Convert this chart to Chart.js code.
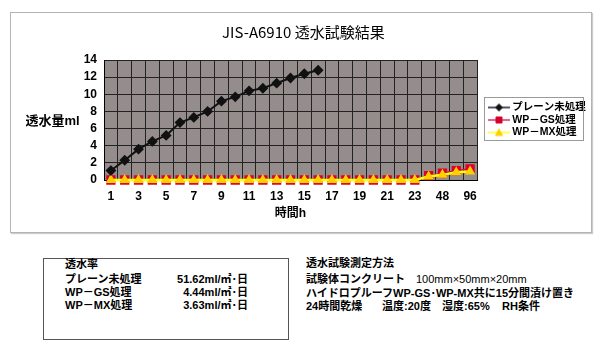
<!DOCTYPE html>
<html><head><meta charset="utf-8">
<script src="https://cdn.jsdelivr.net/npm/chart.js@4"></script>
<style>
html,body{margin:0;padding:0;background:#fff;width:602px;height:356px;overflow:hidden;}
#box{position:absolute;left:10px;top:12px;width:580px;height:219px;border:1px solid #b4b4b4;box-shadow:1px 1px 1px #ccc;}
#box canvas{display:block;}
.t{position:absolute;white-space:nowrap;font-family:"Liberation Sans","Noto Sans CJK JP",sans-serif;font-weight:bold;font-size:11px;line-height:13px;color:#000;}
.n{font-weight:normal;}
#rateBox{position:absolute;left:43px;top:258px;width:244px;height:80px;border:1px solid #555;}
</style></head>
<body>
<div id="box"><canvas id="c" width="580" height="219"></canvas></div>
<div id="rateBox"></div>
<div id="notes"></div>
<script>
// ---- data ----
const categories = ['1','2','3','4','5','6','7','8','9','10','11','12','13','14','15','16','17','18','19','20','21','22','23','24','48','72','96'];
const plainValues = [1.1,2.3,3.6,4.5,5.2,6.7,7.3,8.0,9.2,9.7,10.4,10.7,11.3,11.9,12.4,12.8,null,null,null,null,null,null,null,null,null,null,null];
const gsValues = [0,0,0,0,0,0,0,0,0,0,0,0,0,0,0,0,0,0,0,0,0,0,0,0.5,0.8,1.1,1.3];
const mxValues = [0,0,0,0,0,0,0,0,0,0,0,0,0,0,0,0,0,0,0,0,0,0,0,0.4,0.6,0.9,1.0];
const seriesNames = ['プレーン未処理','WP－GS処理','WP－MX処理'];
const yTickValues = [0,2,4,6,8,10,12,14];
const chartTitle = 'JIS-A6910 透水試験結果';
const yTitle = '透水量ml';
const xTitle = '時間h';
const rateTitle = '透水率';
const rateValues = ['51.62ml/㎡･日','4.44ml/㎡･日','3.63ml/㎡･日'];
const methodTitle = '透水試験測定方法';
const methodRow1 = ['試験体コンクリート','100mm×50mm×20mm'];
const methodRow2 = ['ハイドロプルーフWP-GS･WP-MX共に15分間漬け置き'];
const methodRow3 = ['24時間乾燥','温度:20度','湿度:65%','RH条件'];

// ---- notes (HTML text) ----
const notes = document.getElementById('notes');
function addText(txt, left, centerY, opts = {}) {
  const d = document.createElement('div');
  d.className = 't' + (opts.normal ? ' n' : '');
  d.textContent = txt;
  d.style.top = (centerY - 6.5) + 'px';
  if (opts.right !== undefined) { d.style.right = (602 - opts.right) + 'px'; }
  else d.style.left = left + 'px';
  notes.appendChild(d);
}
const rateRows = [279, 292, 305];
addText(rateTitle, 65, 264);
seriesNames.forEach((n, i) => {
  addText(n, 65, rateRows[i]);
  addText(rateValues[i], 0, rateRows[i], {right: 248});
});
addText(methodTitle, 306, 263);
addText(methodRow1[0], 306, 279);
addText(methodRow1[1], 416, 279, {normal: true});
addText(methodRow2[0], 306, 293);
[306, 382, 442, 502].forEach((x, i) => addText(methodRow3[i], x, 306));

// ---- legend geometry ----
const fontMix = '"Liberation Sans", "Noto Sans CJK JP", sans-serif';
const LEG_FONT = 10.5, LEG_PAD = 2, LEG_BOX = 28, LEG_IMG = 34;
const CANVAS_W = 580, PLOT_RIGHT = 466;
const mctx = document.createElement('canvas').getContext('2d');
mctx.font = 'bold ' + LEG_FONT + 'px ' + fontMix;
const maxTextW = Math.max(...seriesNames.map(s => mctx.measureText(s).width));
const legendW = LEG_PAD + LEG_BOX + LEG_FONT / 2 + maxTextW + 10;
const padRight = CANVAS_W - PLOT_RIGHT - legendW;

function legendImg(lineColor, lineW, style, fill, stroke) {
  const W = LEG_IMG, H = 10;
  const cv = document.createElement('canvas');
  cv.width = W; cv.height = H;
  const g = cv.getContext('2d');
  g.strokeStyle = lineColor; g.lineWidth = lineW;
  g.beginPath(); g.moveTo(12, H / 2); g.lineTo(W, H / 2); g.stroke();
  const cx = 23, cy = H / 2;
  g.fillStyle = fill; g.strokeStyle = stroke; g.lineWidth = 1;
  g.beginPath();
  if (style === 'diamond') { g.moveTo(cx, cy - 3.5); g.lineTo(cx + 3.5, cy); g.lineTo(cx, cy + 3.5); g.lineTo(cx - 3.5, cy); }
  else if (style === 'square') { g.rect(cx - 3, cy - 3, 6, 6); }
  else { g.moveTo(cx, cy - 3.5); g.lineTo(cx + 3.5, cy + 3); g.lineTo(cx - 3.5, cy + 3); }
  g.closePath(); g.fill(); g.stroke();
  return cv;
}
const legendImgs = [
  legendImg('#1a1a40', 1.5, 'diamond', '#111', '#111'),
  legendImg('#e0306a', 1.5, 'square', '#d8002a', '#d8002a'),
  legendImg('#ffff20', 1.5, 'triangle', '#ffd000', '#ffd000')
];

const decor = {
  id: 'decor',
  beforeDraw(chart) {
    const {ctx, chartArea: a} = chart;
    ctx.save();
    ctx.fillStyle = '#958c8c';
    ctx.fillRect(a.left, a.top, a.width, a.height);
    ctx.restore();
  },
  afterDraw(chart) {
    const {ctx, chartArea: a} = chart;
    const lg = chart.legend;
    const cy = (a.top + a.bottom) / 2;
    ctx.save();
    ctx.strokeStyle = '#9a9a9a'; ctx.lineWidth = 1;
    ctx.strokeRect(Math.round(lg.left + 7) + 0.5, Math.round(cy - 23) + 0.5, 99, 43);
    ctx.fillStyle = '#000';
    ctx.font = 'bold 13px ' + fontMix;
    ctx.textAlign = 'center'; ctx.textBaseline = 'middle';
    ctx.fillText(yTitle, chart.scales.y.left + 41.5, cy + 1.5);
    ctx.restore();
  }
};

new Chart(document.getElementById('c'), {
  type: 'line',
  data: {
    labels: categories,
    datasets: [
      {label: seriesNames[0], data: plainValues, order: 0, borderColor: '#111', borderWidth: 2,
       pointStyle: 'rectRot', pointRadius: 4, pointBackgroundColor: '#111', pointBorderColor: '#111', clip: false},
      {label: seriesNames[1], data: gsValues, order: 2, borderColor: '#e0103a', borderWidth: 1.5,
       pointStyle: 'rect', pointRadius: 5.5, pointBackgroundColor: '#e0002a', pointBorderColor: '#e0002a', clip: false},
      {label: seriesNames[2], data: mxValues, order: 1, borderColor: '#ffff00', borderWidth: 2.5,
       pointStyle: 'triangle', pointRadius: 3.5, pointBackgroundColor: '#ffd000', pointBorderColor: '#ffd000', clip: false}
    ]
  },
  options: {
    responsive: false,
    animation: false,
    layout: {padding: {left: 0, right: padRight, top: 0, bottom: 0}},
    plugins: {
      title: {display: true, text: chartTitle, color: '#000',
        font: {family: '"Noto Sans CJK JP", sans-serif', size: 15, weight: 'normal'},
        padding: {top: 10, bottom: 19}},
      tooltip: {enabled: false},
      legend: {
        position: 'right', fullSize: false,
        labels: {
          usePointStyle: true, pointStyleWidth: LEG_BOX, padding: LEG_PAD, color: '#000',
          font: {family: fontMix, size: LEG_FONT, weight: 'bold', lineHeight: 1.2},
          sort: (a, b) => a.datasetIndex - b.datasetIndex,
          generateLabels(chart) {
            const items = Chart.defaults.plugins.legend.labels.generateLabels(chart);
            items.forEach(it => { it.pointStyle = legendImgs[it.datasetIndex]; });
            return items;
          }
        }
      }
    },
    scales: {
      x: {
        offset: true,
        grid: {offset: true, color: '#222', drawTicks: false},
        border: {display: true, color: '#000'},
        ticks: {autoSkip: false, maxRotation: 0, padding: 9, color: '#000',
          font: {family: fontMix, size: 12, weight: 'bold'},
          callback: (v, i) => (i % 2 === 0 ? categories[i] : '')},
        title: {display: true, text: xTitle, color: '#000',
          font: {family: fontMix, size: 12, weight: 'bold'}, padding: {top: 0, bottom: 11}},
        afterFit: s => { s.height = 52; }
      },
      y: {
        min: 0, max: 14,
        afterBuildTicks: s => { s.ticks = yTickValues.map(v => ({value: v})); },
        grid: {color: '#222', drawTicks: false},
        border: {display: true, color: '#000'},
        ticks: {autoSkip: false, padding: 7, color: '#000', font: {family: fontMix, size: 12, weight: 'bold'}},
        afterFit: s => { s.width = 93; }
      }
    }
  },
  plugins: [decor]
});
</script>
</body></html>
